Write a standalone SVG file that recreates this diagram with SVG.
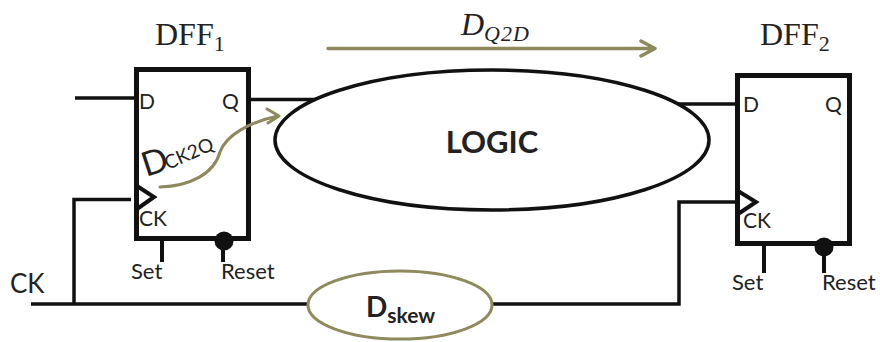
<svg xmlns="http://www.w3.org/2000/svg" width="880" height="342" viewBox="0 0 880 342">
<style>
.w{fill:none;stroke:#111;stroke-linecap:butt;stroke-linejoin:miter}
.box{fill:#fff;stroke:#111;stroke-width:5}
.k{fill:none;stroke:#8e8a5e;stroke-linecap:round;stroke-linejoin:round}
.l{font-family:Lato,"Open Sans",sans-serif;fill:#222}
.m{font-family:"Liberation Serif",serif;fill:#222}
.p{font-size:21px}
.n{font-size:22px}
</style>
<rect width="880" height="342" fill="#fff"/>
<g id="connectors">
<path class="w" stroke-width="3.500" d="M75 98H136M250 99.500H320M678 104H737"/>
<path class="w" stroke-width="3.500" d="M131 199.500H74V304M31 304H308M493 304H679V202H737"/>
<path class="w" stroke-width="4" d="M162 240V262M223 240V262M764 246V273M824 246V273"/>
</g>
<g id="dff1">
<rect class="box" x="136.500" y="69.500" width="112" height="169"/>
<path class="w" stroke-width="4" d="M137 186L154 197L137 209"/>
<circle cx="224" cy="241" r="9.500" fill="#111"/>
<text class="l p" x="139" y="109">D</text>
<text class="l p" x="222" y="109">Q</text>
<text class="l p" x="139" y="226">CK</text>
<text class="l n" x="131" y="279">Set</text>
<text class="l n" x="221" y="279">Reset</text>
<text class="m" x="155" y="45" font-size="32">DFF<tspan font-size="22" dy="6">1</tspan></text>
</g>
<g id="dff2">
<rect class="box" x="737.500" y="75.500" width="112" height="168"/>
<path class="w" stroke-width="4" d="M738 191L756 202L738 214"/>
<circle cx="824" cy="247" r="9.500" fill="#111"/>
<text class="l p" x="743" y="112">D</text>
<text class="l p" x="825" y="112">Q</text>
<text class="l p" x="743" y="228">CK</text>
<text class="l n" x="732" y="290">Set</text>
<text class="l n" x="822" y="290">Reset</text>
<text class="m" x="760" y="45" font-size="32">DFF<tspan font-size="22" dy="6">2</tspan></text>
</g>
<g id="logic">
<ellipse cx="492" cy="140" rx="217" ry="70" fill="#fff" stroke="#111" stroke-width="3.500"/>
<text class="l" x="492" y="153" font-size="31" font-weight="700" text-anchor="middle" fill="#111">LOGIC</text>
</g>
<g id="dskew">
<ellipse cx="400" cy="305" rx="92" ry="34" fill="#fff" stroke="#8e8a5e" stroke-width="3"/>
<text class="l" x="366" y="317" font-size="28" font-weight="700" fill="#111">D<tspan font-size="21" dy="6">skew</tspan></text>
</g>
<g id="delays">
<path class="k" stroke-width="3" d="M160 187C190 186 214 174 220 152C226 135 250 122 278 116M267 109L279 116L268 123"/>
<path class="k" stroke-width="3.500" d="M328 48.500H654M641 41L655 48.500L641 56"/>
<text class="l" transform="translate(146 177) rotate(-18)" font-size="34">D</text>
<text class="l" transform="translate(168 170) rotate(-24)" font-size="19">CK2Q</text>
<text class="m" x="461" y="35" font-size="32" font-style="italic">D<tspan font-size="22" dy="6" letter-spacing="1">Q2D</tspan></text>
<text class="l" x="10" y="293" font-size="26">CK</text>
</g>
</svg>
